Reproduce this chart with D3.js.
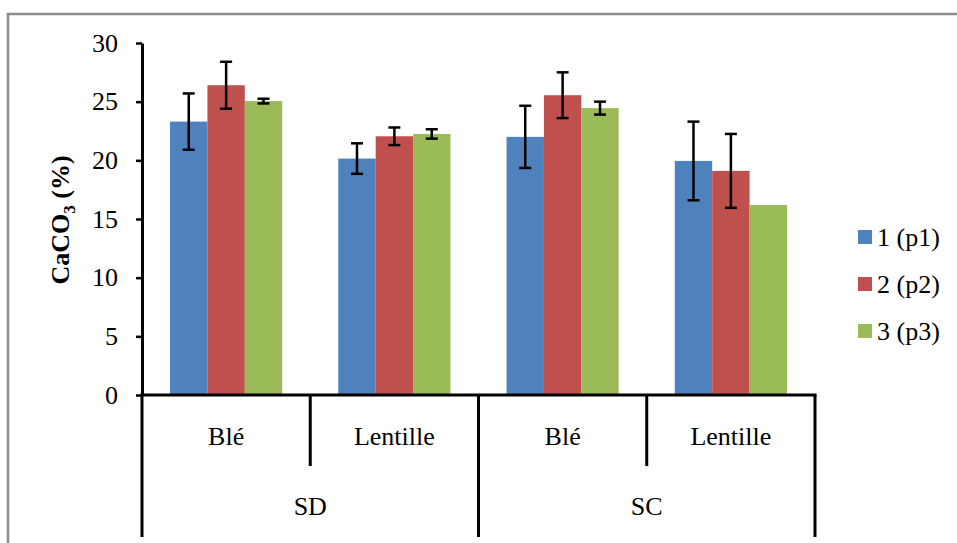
<!DOCTYPE html>
<html>
<head>
<meta charset="utf-8">
<script src="https://cdn.jsdelivr.net/npm/d3@7"></script>
<style>
  body { margin: 0; background: #fff; }
</style>
</head>
<body>
<div id="viz"></div>
<script>
// Data
const groups = ["SD", "SC"];
const crops = ["Blé", "Lentille"];
const series = ["1 (p1)", "2 (p2)", "3 (p3)"];
const colors = ["#4F81BD", "#C0504D", "#9BBB59"];

const p1 = [23.3, 20.15, 22.0, 19.95];
const p2 = [26.4, 22.05, 25.55, 19.1];
const p3 = [25.05, 22.25, 24.45, 16.2];
const e1 = [2.4, 1.3, 2.65, 3.35];
const e2 = [2.0, 0.75, 1.95, 3.15];
const e3 = [0.2, 0.4, 0.55, 0];

const yTicks = [0, 5, 10, 15, 20, 25, 30];

const values = [p1, p2, p3];
const errors = [e1, e2, e3];

const FONT = "'Liberation Serif', 'Times New Roman', Times, serif";

// categories: group x crop
const cats = [];
groups.forEach(g => crops.forEach(c => cats.push({ group: g, crop: c, key: g + "|" + c })));

const rows = [];
cats.forEach((c, i) => {
    series.forEach((s, j) => {
        rows.push({ key: c.key, series: s, value: values[j][i], err: errors[j][i], color: colors[j] });
    });
});

const width = 957, height = 543;
const plotLeft = 142, plotRight = 815, plotTop = 43, plotBottom = 395;

const svg = d3.select("#viz").append("svg")
    .attr("width", width)
    .attr("height", height)
    .style("font-family", FONT);

// outer frame (right and bottom edges fall outside the picture)
svg.append("rect")
    .attr("x", 8)
    .attr("y", 14)
    .attr("width", 1000)
    .attr("height", 600)
    .attr("fill", "none")
    .attr("stroke", "#8c8c8c")
    .attr("stroke-width", 2.5);

const x0 = d3.scaleBand()
    .domain(cats.map(d => d.key))
    .range([plotLeft, plotRight]);

const x1 = d3.scaleBand()
    .domain(series)
    .range([0, x0.bandwidth()])
    .paddingInner(0)
    .paddingOuter(0.75);

const y = d3.scaleLinear()
    .domain([0, 30])
    .range([plotBottom, plotTop]);

// bars
svg.append("g")
    .selectAll("rect")
    .data(rows)
    .enter()
    .append("rect")
    .attr("x", d => x0(d.key) + x1(d.series))
    .attr("y", d => y(d.value))
    .attr("width", x1.bandwidth())
    .attr("height", d => y(0) - y(d.value))
    .attr("fill", d => d.color);

// error bars
const eb = svg.append("g")
    .selectAll("g")
    .data(rows.filter(d => d.err > 0))
    .enter()
    .append("g")
    .attr("stroke", "#000")
    .attr("stroke-width", 2.5);

const cx = d => x0(d.key) + x1(d.series) + x1.bandwidth() / 2;

eb.append("line")
    .attr("x1", cx).attr("x2", cx)
    .attr("y1", d => y(d.value + d.err))
    .attr("y2", d => y(d.value - d.err));
eb.append("line")
    .attr("x1", d => cx(d) - 6).attr("x2", d => cx(d) + 6)
    .attr("y1", d => y(d.value + d.err))
    .attr("y2", d => y(d.value + d.err));
eb.append("line")
    .attr("x1", d => cx(d) - 6).attr("x2", d => cx(d) + 6)
    .attr("y1", d => y(d.value - d.err))
    .attr("y2", d => y(d.value - d.err));

// y axis
const yAxis = d3.axisLeft(y)
    .tickValues(yTicks)
    .tickSize(6)
    .tickPadding(18)
    .tickSizeOuter(0);

const ya = svg.append("g")
    .attr("transform", `translate(${plotLeft}, 0)`)
    .call(yAxis)
    .attr("font-family", null);
ya.select(".domain").attr("stroke-width", 3);
ya.selectAll(".tick line").attr("stroke-width", 2.5);
ya.selectAll(".tick text")
    .style("font-size", "26px")
    .style("font-family", FONT)
    .attr("fill", "#000");

// x axis line
svg.append("line")
    .attr("x1", plotLeft - 1.5).attr("x2", plotRight + 1.5)
    .attr("y1", plotBottom).attr("y2", plotBottom)
    .attr("stroke", "#000")
    .attr("stroke-width", 3);

// separators between categories
const groupEdges = [x0(cats[0].key), x0(cats[2].key), x0(cats[3].key) + x0.bandwidth()];
const cropEdges = [x0(cats[1].key), x0(cats[3].key)];

svg.append("g")
    .selectAll("line")
    .data(groupEdges)
    .enter()
    .append("line")
    .attr("x1", d => d).attr("x2", d => d)
    .attr("y1", plotBottom).attr("y2", 537)
    .attr("stroke", "#000")
    .attr("stroke-width", 3);

svg.append("g")
    .selectAll("line")
    .data(cropEdges)
    .enter()
    .append("line")
    .attr("x1", d => d).attr("x2", d => d)
    .attr("y1", plotBottom).attr("y2", 466)
    .attr("stroke", "#000")
    .attr("stroke-width", 3);

// crop labels
svg.append("g")
    .selectAll("text")
    .data(cats)
    .enter()
    .append("text")
    .attr("x", d => x0(d.key) + x0.bandwidth() / 2)
    .attr("y", 445)
    .attr("text-anchor", "middle")
    .style("font-size", "26px")
    .style("font-family", FONT)
    .text(d => d.crop);

// group labels
svg.append("g")
    .selectAll("text")
    .data(groups)
    .enter()
    .append("text")
    .attr("x", (g, i) => (groupEdges[i] + groupEdges[i + 1]) / 2)
    .attr("y", 515)
    .attr("text-anchor", "middle")
    .style("font-size", "26px")
    .style("font-family", FONT)
    .text(d => d);

// y axis title
const yt = svg.append("text")
    .attr("transform", "translate(69, 220) rotate(-90)")
    .attr("text-anchor", "middle")
    .style("font-size", "26px")
    .style("font-family", FONT)
    .style("font-weight", "bold");
yt.append("tspan").text("CaCO");
yt.append("tspan").style("font-size", "17px").attr("dy", 6).text("3");
yt.append("tspan").attr("dy", -6).text(" (%)");

// legend
const legend = svg.append("g")
    .selectAll("g")
    .data(series)
    .enter()
    .append("g")
    .attr("transform", (d, i) => `translate(858, ${237 + i * 47})`);

legend.append("rect")
    .attr("x", 0)
    .attr("y", -7)
    .attr("width", 14)
    .attr("height", 14)
    .attr("fill", (d, i) => colors[i]);

legend.append("text")
    .attr("x", 19)
    .attr("y", 9)
    .style("font-size", "26px")
    .style("font-family", FONT)
    .text(d => d);
</script>
</body>
</html>
